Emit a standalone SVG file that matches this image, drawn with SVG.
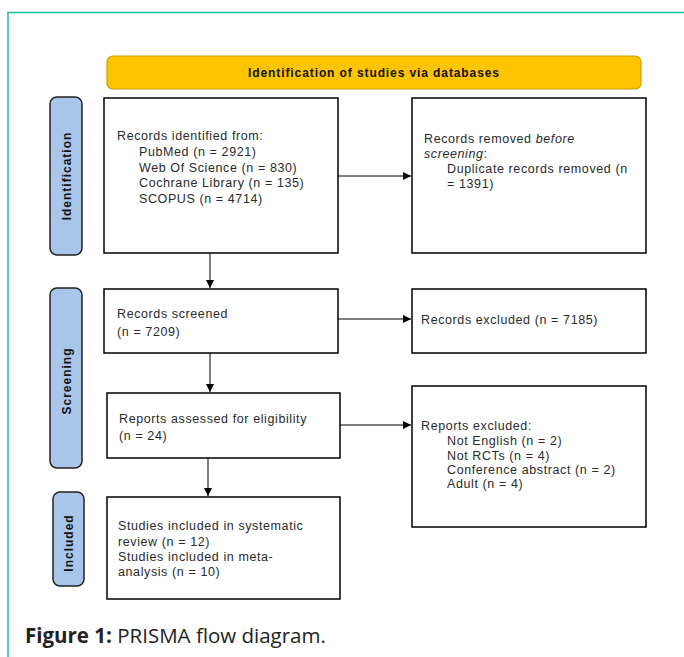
<svg xmlns="http://www.w3.org/2000/svg" width="684" height="657" viewBox="0 0 684 657">
<defs>
<style>
.box{fill:#fff;stroke:#000;stroke-width:1.5}
.side{fill:#A9C6EA;stroke:#222;stroke-width:1.5}
.t{font-family:"Liberation Sans",Arial,sans-serif;font-size:12.5px;letter-spacing:0.6px;fill:#2a2a2a}
.sl{font-family:"Liberation Sans",Arial,sans-serif;font-size:12px;font-weight:bold;letter-spacing:1px;fill:#111}
.cn{stroke:#000;stroke-width:1;fill:none}
</style>
<marker id="ah" viewBox="0 0 10 10" refX="10" refY="5" markerWidth="8" markerHeight="8" markerUnits="userSpaceOnUse" orient="auto">
<path d="M0,0 L10,5 L0,10 z" fill="#000"/>
</marker>
</defs>
<rect width="684" height="657" fill="#fff"/>
<g id="frame">
<line x1="7" y1="12.5" x2="684" y2="12.5" stroke="#1DBE9C" stroke-width="1.5"/>
<line x1="8" y1="12" x2="8" y2="657" stroke="#1DBE9C" stroke-width="1.5"/>
</g>
<g id="banner">
<rect x="107" y="56" width="534" height="33" rx="6" fill="#FFC400" stroke="#C8A000" stroke-width="1.2"/>
<text class="sl" x="374" y="77" text-anchor="middle" style="letter-spacing:0.9px">Identification of studies via databases</text>
</g>
<g id="side-identification">
<rect class="side" x="50" y="97" width="32" height="158" rx="7"/>
<text class="sl" transform="translate(71,176) rotate(-90)" text-anchor="middle">Identification</text>
</g>
<g id="side-screening">
<rect class="side" x="50" y="288" width="32" height="180" rx="7"/>
<text class="sl" transform="translate(71,381) rotate(-90)" text-anchor="middle">Screening</text>
</g>
<g id="side-included">
<rect class="side" x="53" y="492" width="31" height="94" rx="7"/>
<text class="sl" transform="translate(73,543) rotate(-90)" text-anchor="middle">Included</text>
</g>
<g id="connectors">
<line class="cn" x1="338" y1="176" x2="411" y2="176" marker-end="url(#ah)"/>
<line class="cn" x1="338" y1="319" x2="411" y2="319" marker-end="url(#ah)"/>
<line class="cn" x1="340" y1="425" x2="411" y2="425" marker-end="url(#ah)"/>
<line class="cn" x1="210" y1="253" x2="210" y2="288" marker-end="url(#ah)"/>
<line class="cn" x1="210" y1="353" x2="210" y2="392" marker-end="url(#ah)"/>
<line class="cn" x1="208" y1="458" x2="208" y2="496" marker-end="url(#ah)"/>
</g>
<g id="records-identified">
<rect class="box" x="104" y="98" width="234" height="155"/>
<text class="t" x="117" y="140">Records identified from:</text>
<text class="t" x="139" y="156">PubMed (n = 2921)</text>
<text class="t" x="139" y="171.5">Web Of Science (n = 830)</text>
<text class="t" x="139" y="187">Cochrane Library (n = 135)</text>
<text class="t" x="139" y="202.5">SCOPUS (n = 4714)</text>
</g>
<g id="records-removed">
<rect class="box" x="412" y="98" width="234" height="155"/>
<text class="t" x="424" y="143">Records removed <tspan font-style="italic">before</tspan></text>
<text class="t" x="424" y="158">
<tspan font-style="italic">screening</tspan>:</text>
<text class="t" x="447" y="173">Duplicate records removed (n</text>
<text class="t" x="447" y="187.5">= 1391)</text>
</g>
<g id="records-screened">
<rect class="box" x="104" y="289" width="234" height="64"/>
<text class="t" x="117" y="318">Records screened</text>
<text class="t" x="117" y="336">(n = 7209)</text>
</g>
<g id="records-excluded">
<rect class="box" x="412" y="289" width="234" height="64"/>
<text class="t" x="421" y="324">Records excluded (n = 7185)</text>
</g>
<g id="reports-assessed">
<rect class="box" x="107" y="393" width="233" height="65"/>
<text class="t" x="119" y="422.5">Reports assessed for eligibility</text>
<text class="t" x="119" y="440">(n = 24)</text>
</g>
<g id="reports-excluded">
<rect class="box" x="412" y="386" width="234" height="141"/>
<text class="t" x="421" y="429.5">Reports excluded:</text>
<text class="t" x="447" y="445">Not English  (n = 2)</text>
<text class="t" x="447" y="459.5">Not RCTs (n = 4)</text>
<text class="t" x="447" y="474">Conference abstract (n = 2)</text>
<text class="t" x="447" y="488">Adult (n = 4)</text>
</g>
<g id="studies-included">
<rect class="box" x="107" y="497" width="233" height="102"/>
<text class="t" x="118" y="529.5">Studies included in systematic</text>
<text class="t" x="118" y="546">review (n = 12)</text>
<text class="t" x="118" y="561">Studies included in meta-</text>
<text class="t" x="118" y="576">analysis (n = 10)</text>
</g>
<g id="caption">
<text x="25" y="643" font-family="'Open Sans','Noto Sans',sans-serif" font-size="20.5" fill="#222"><tspan font-weight="bold">Figure 1:</tspan> PRISMA flow diagram.</text>
</g>
</svg>
